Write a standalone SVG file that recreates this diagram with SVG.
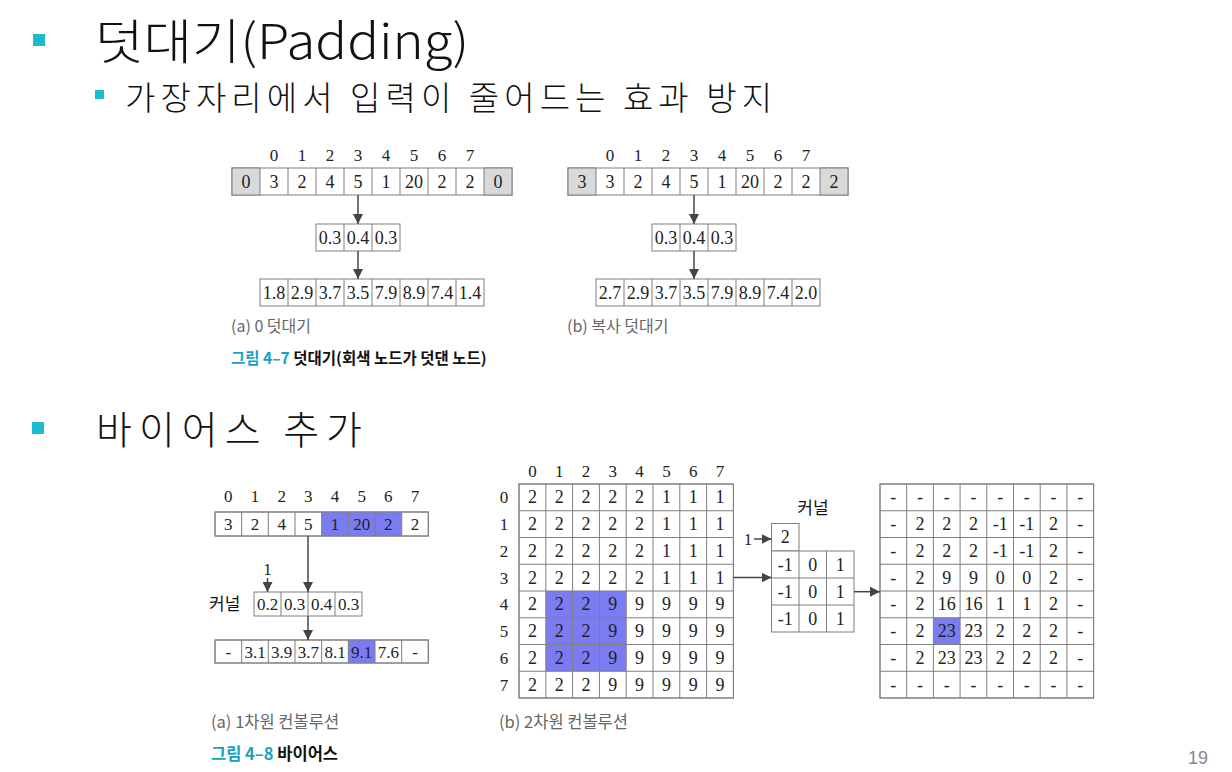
<svg xmlns="http://www.w3.org/2000/svg" width="1232" height="772" viewBox="0 0 1232 772">
<style>
.bg{fill:#fff}
.cell{fill:#fff;stroke:#7f7f7f;stroke-width:1}
.gray{fill:#d9d9d9;stroke:#7f7f7f;stroke-width:1}
.hl{fill:#7b7cf2}
.ln{fill:none;stroke:#7f7f7f;stroke-width:1}
.box{fill:none;stroke:#7f7f7f;stroke-width:1}
.n{font-family:"Liberation Serif","Times New Roman",serif;font-size:18px;fill:#222;text-anchor:middle}
.s{font-family:"Liberation Serif","Times New Roman",serif;font-size:17px;fill:#222;text-anchor:middle}
.ko{font-family:"Noto Sans CJK KR","Noto Sans",sans-serif;fill:#111}
.cap{font-family:"Noto Sans CJK KR","Noto Sans",sans-serif;fill:#666}
.fig{font-family:"Noto Sans CJK KR","Noto Sans",sans-serif;font-weight:bold;fill:#111}
.teal{fill:#1a9fbf}
.bul{fill:#1bbccd}
.arr{fill:none;stroke:#444;stroke-width:1.5}
</style>
<defs>
<marker id="ah" markerUnits="userSpaceOnUse" markerWidth="10" markerHeight="10" refX="10" refY="5" orient="auto">
<path d="M0,0 L10,5 L0,10 z" fill="#444"/>
</marker>
</defs>
<rect class="bg" x="0" y="0" width="1232" height="772"/>

<g id="headings">
<rect class="bul" x="33" y="34" width="12" height="12"/>
<text class="ko" x="95" y="59" font-size="48" font-weight="300" textLength="374" lengthAdjust="spacingAndGlyphs">덧대기(Padding)</text>
<rect class="bul" x="95" y="90" width="9" height="9"/>
<text class="ko" x="125" y="110" font-size="33" font-weight="300" textLength="647" lengthAdjust="spacing">가장자리에서 입력이 줄어드는 효과 방지</text>
<rect class="bul" x="32" y="422" width="12" height="12"/>
<text class="ko" x="96" y="444" font-size="39" font-weight="300" textLength="266" lengthAdjust="spacing">바이어스 추가</text>
<text x="1198" y="764" font-family="Liberation Sans,Arial,sans-serif" font-size="18" fill="#888" text-anchor="middle">19</text>
</g>

<!-- Figure 4-7 (a) -->
<g id="pad0-input">
<rect class="cell" x="232" y="168" width="280" height="27"/>
<rect class="gray" x="232" y="168" width="28" height="27"/>
<rect class="gray" x="484" y="168" width="28" height="27"/>
<path class="ln" d="M288 168V195M316 168V195M344 168V195M372 168V195M400 168V195M428 168V195M456 168V195"/>
<text class="s" x="274" y="161">0</text><text class="s" x="302" y="161">1</text><text class="s" x="330" y="161">2</text><text class="s" x="358" y="161">3</text><text class="s" x="386" y="161">4</text><text class="s" x="414" y="161">5</text><text class="s" x="442" y="161">6</text><text class="s" x="470" y="161">7</text>
<text class="n" x="246" y="188">0</text><text class="n" x="274" y="188">3</text><text class="n" x="302" y="188">2</text><text class="n" x="330" y="188">4</text><text class="n" x="358" y="188">5</text><text class="n" x="386" y="188">1</text><text class="n" x="414" y="188">20</text><text class="n" x="442" y="188">2</text><text class="n" x="470" y="188">2</text><text class="n" x="498" y="188">0</text>
</g>
<g id="pad0-kernel">
<rect class="cell" x="316" y="224" width="84" height="27"/>
<path class="ln" d="M344 224V251M372 224V251"/>
<text class="n" x="330" y="244">0.3</text><text class="n" x="358" y="244">0.4</text><text class="n" x="386" y="244">0.3</text>
</g>
<g id="pad0-output">
<rect class="cell" x="260" y="279" width="224" height="27"/>
<path class="ln" d="M288 279V306M316 279V306M344 279V306M372 279V306M400 279V306M428 279V306M456 279V306"/>
<text class="n" x="274" y="299">1.8</text><text class="n" x="302" y="299">2.9</text><text class="n" x="330" y="299">3.7</text><text class="n" x="358" y="299">3.5</text><text class="n" x="386" y="299">7.9</text><text class="n" x="414" y="299">8.9</text><text class="n" x="442" y="299">7.4</text><text class="n" x="470" y="299">1.4</text>
</g>
<g id="cap-a-top">
<text class="cap" x="231" y="332" font-size="16">(a) 0 덧대기</text>
</g>

<!-- Figure 4-7 (b) -->
<g id="padcopy-input">
<rect class="cell" x="568" y="168" width="280" height="27"/>
<rect class="gray" x="568" y="168" width="28" height="27"/>
<rect class="gray" x="820" y="168" width="28" height="27"/>
<path class="ln" d="M624 168V195M652 168V195M680 168V195M708 168V195M736 168V195M764 168V195M792 168V195"/>
<text class="s" x="610" y="161">0</text><text class="s" x="638" y="161">1</text><text class="s" x="666" y="161">2</text><text class="s" x="694" y="161">3</text><text class="s" x="722" y="161">4</text><text class="s" x="750" y="161">5</text><text class="s" x="778" y="161">6</text><text class="s" x="806" y="161">7</text>
<text class="n" x="582" y="188">3</text><text class="n" x="610" y="188">3</text><text class="n" x="638" y="188">2</text><text class="n" x="666" y="188">4</text><text class="n" x="694" y="188">5</text><text class="n" x="722" y="188">1</text><text class="n" x="750" y="188">20</text><text class="n" x="778" y="188">2</text><text class="n" x="806" y="188">2</text><text class="n" x="834" y="188">2</text>
</g>
<g id="padcopy-kernel">
<rect class="cell" x="652" y="224" width="84" height="27"/>
<path class="ln" d="M680 224V251M708 224V251"/>
<text class="n" x="666" y="244">0.3</text><text class="n" x="694" y="244">0.4</text><text class="n" x="722" y="244">0.3</text>
</g>
<g id="padcopy-output">
<rect class="cell" x="596" y="279" width="224" height="27"/>
<path class="ln" d="M624 279V306M652 279V306M680 279V306M708 279V306M736 279V306M764 279V306M792 279V306"/>
<text class="n" x="610" y="299">2.7</text><text class="n" x="638" y="299">2.9</text><text class="n" x="666" y="299">3.7</text><text class="n" x="694" y="299">3.5</text><text class="n" x="722" y="299">7.9</text><text class="n" x="750" y="299">8.9</text><text class="n" x="778" y="299">7.4</text><text class="n" x="806" y="299">2.0</text>
</g>
<g id="cap-b-top">
<text class="cap" x="567" y="332" font-size="16">(b) 복사 덧대기</text>
</g>
<g id="fig47-title">
<text class="fig" x="231" y="364" font-size="15.5"><tspan class="teal">그림 4–7</tspan> 덧대기(회색 노드가 덧댄 노드)</text>
</g>

<!-- Figure 4-8 (a) 1D -->
<g id="bias1d-input">
<rect class="cell" x="215" y="512" width="213.3" height="24"/>
<rect class="hl" x="321.7" y="512" width="80" height="24"/>
<rect class="box" x="215" y="512" width="213.3" height="24"/>
<path class="ln" d="M241.7 512V536M268.3 512V536M295 512V536M321.7 512V536M348.3 512V536M375 512V536M401.7 512V536"/>
<text class="s" x="228.3" y="502">0</text><text class="s" x="255" y="502">1</text><text class="s" x="281.7" y="502">2</text><text class="s" x="308.3" y="502">3</text><text class="s" x="335" y="502">4</text><text class="s" x="361.7" y="502">5</text><text class="s" x="388.3" y="502">6</text><text class="s" x="415" y="502">7</text>
<text class="s" x="228.3" y="530">3</text><text class="s" x="255" y="530">2</text><text class="s" x="281.7" y="530">4</text><text class="s" x="308.3" y="530">5</text><text class="s" x="335" y="530">1</text><text class="s" x="361.7" y="530">20</text><text class="s" x="388.3" y="530">2</text><text class="s" x="415" y="530">2</text>
</g>
<g id="bias1d-kernel">
<text class="ko" x="209" y="610" font-size="17">커널</text>
<text class="s" x="267.5" y="575">1</text>
<rect class="cell" x="254" y="592" width="108" height="24"/>
<path class="ln" d="M281 592V616M308 592V616M335 592V616"/>
<text class="s" x="267.5" y="610">0.2</text><text class="s" x="294.5" y="610">0.3</text><text class="s" x="321.5" y="610">0.4</text><text class="s" x="348.5" y="610">0.3</text>
</g>
<g id="bias1d-output">
<rect class="cell" x="215" y="640" width="213.3" height="23"/>
<rect class="hl" x="348.3" y="640" width="26.7" height="23"/>
<rect class="box" x="215" y="640" width="213.3" height="23"/>
<path class="ln" d="M241.7 640V663M268.3 640V663M295 640V663M321.7 640V663M348.3 640V663M375 640V663M401.7 640V663"/>
<text class="s" x="228.3" y="657.5">-</text><text class="s" x="255" y="657.5">3.1</text><text class="s" x="281.7" y="657.5">3.9</text><text class="s" x="308.3" y="657.5">3.7</text><text class="s" x="335" y="657.5">8.1</text><text class="s" x="361.7" y="657.5">9.1</text><text class="s" x="388.3" y="657.5">7.6</text><text class="s" x="415" y="657.5">-</text>
</g>

<!-- Figure 4-8 (b) 2D -->
<g id="bias2d-input">
<rect class="cell" x="519" y="484" width="214.4" height="214"/>
<rect class="hl" x="545.8" y="591" width="80.4" height="80.25"/>
<rect class="box" x="519" y="484" width="214.4" height="214"/>
<path class="ln" d="M545.8 484V698M572.6 484V698M599.4 484V698M626.2 484V698M653 484V698M679.8 484V698M706.6 484V698M519 510.75H733.4M519 537.5H733.4M519 564.25H733.4M519 591H733.4M519 617.75H733.4M519 644.5H733.4M519 671.25H733.4"/>
<text class="s" x="532.4" y="477">0</text><text class="s" x="559.2" y="477">1</text><text class="s" x="586" y="477">2</text><text class="s" x="612.8" y="477">3</text><text class="s" x="639.6" y="477">4</text><text class="s" x="666.4" y="477">5</text><text class="s" x="693.2" y="477">6</text><text class="s" x="720" y="477">7</text>
<text class="s" x="504" y="503.4">0</text><text class="s" x="504" y="530.1">1</text><text class="s" x="504" y="556.9">2</text><text class="s" x="504" y="583.6">3</text><text class="s" x="504" y="610.4">4</text><text class="s" x="504" y="637.1">5</text><text class="s" x="504" y="663.9">6</text><text class="s" x="504" y="690.6">7</text>
<text class="n" x="532.4" y="503.4">2</text><text class="n" x="559.2" y="503.4">2</text><text class="n" x="586" y="503.4">2</text><text class="n" x="612.8" y="503.4">2</text><text class="n" x="639.6" y="503.4">2</text><text class="n" x="666.4" y="503.4">1</text><text class="n" x="693.2" y="503.4">1</text><text class="n" x="720" y="503.4">1</text>
<text class="n" x="532.4" y="530.1">2</text><text class="n" x="559.2" y="530.1">2</text><text class="n" x="586" y="530.1">2</text><text class="n" x="612.8" y="530.1">2</text><text class="n" x="639.6" y="530.1">2</text><text class="n" x="666.4" y="530.1">1</text><text class="n" x="693.2" y="530.1">1</text><text class="n" x="720" y="530.1">1</text>
<text class="n" x="532.4" y="556.9">2</text><text class="n" x="559.2" y="556.9">2</text><text class="n" x="586" y="556.9">2</text><text class="n" x="612.8" y="556.9">2</text><text class="n" x="639.6" y="556.9">2</text><text class="n" x="666.4" y="556.9">1</text><text class="n" x="693.2" y="556.9">1</text><text class="n" x="720" y="556.9">1</text>
<text class="n" x="532.4" y="583.6">2</text><text class="n" x="559.2" y="583.6">2</text><text class="n" x="586" y="583.6">2</text><text class="n" x="612.8" y="583.6">2</text><text class="n" x="639.6" y="583.6">2</text><text class="n" x="666.4" y="583.6">1</text><text class="n" x="693.2" y="583.6">1</text><text class="n" x="720" y="583.6">1</text>
<text class="n" x="532.4" y="610.4">2</text><text class="n" x="559.2" y="610.4">2</text><text class="n" x="586" y="610.4">2</text><text class="n" x="612.8" y="610.4">9</text><text class="n" x="639.6" y="610.4">9</text><text class="n" x="666.4" y="610.4">9</text><text class="n" x="693.2" y="610.4">9</text><text class="n" x="720" y="610.4">9</text>
<text class="n" x="532.4" y="637.1">2</text><text class="n" x="559.2" y="637.1">2</text><text class="n" x="586" y="637.1">2</text><text class="n" x="612.8" y="637.1">9</text><text class="n" x="639.6" y="637.1">9</text><text class="n" x="666.4" y="637.1">9</text><text class="n" x="693.2" y="637.1">9</text><text class="n" x="720" y="637.1">9</text>
<text class="n" x="532.4" y="663.9">2</text><text class="n" x="559.2" y="663.9">2</text><text class="n" x="586" y="663.9">2</text><text class="n" x="612.8" y="663.9">9</text><text class="n" x="639.6" y="663.9">9</text><text class="n" x="666.4" y="663.9">9</text><text class="n" x="693.2" y="663.9">9</text><text class="n" x="720" y="663.9">9</text>
<text class="n" x="532.4" y="690.6">2</text><text class="n" x="559.2" y="690.6">2</text><text class="n" x="586" y="690.6">2</text><text class="n" x="612.8" y="690.6">9</text><text class="n" x="639.6" y="690.6">9</text><text class="n" x="666.4" y="690.6">9</text><text class="n" x="693.2" y="690.6">9</text><text class="n" x="720" y="690.6">9</text>
</g>
<g id="bias2d-kernel">
<text class="ko" x="813" y="514" font-size="17" text-anchor="middle">커널</text>
<text class="s" x="748" y="545">1</text>
<rect class="cell" x="771.5" y="523.5" width="27.5" height="27.5"/>
<text class="n" x="785.25" y="543">2</text>
<rect class="cell" x="771.5" y="551" width="82.5" height="81"/>
<path class="ln" d="M799 551V632M826.5 551V632M771.5 578H854M771.5 605H854"/>
<text class="n" x="785.25" y="570.5">-1</text><text class="n" x="812.75" y="570.5">0</text><text class="n" x="840.25" y="570.5">1</text>
<text class="n" x="785.25" y="597.5">-1</text><text class="n" x="812.75" y="597.5">0</text><text class="n" x="840.25" y="597.5">1</text>
<text class="n" x="785.25" y="624.5">-1</text><text class="n" x="812.75" y="624.5">0</text><text class="n" x="840.25" y="624.5">1</text>
</g>
<g id="bias2d-output">
<rect class="cell" x="880" y="484" width="213.6" height="214"/>
<rect class="hl" x="933.4" y="617.75" width="26.7" height="26.75"/>
<rect class="box" x="880" y="484" width="213.6" height="214"/>
<path class="ln" d="M906.7 484V698M933.4 484V698M960.1 484V698M986.8 484V698M1013.5 484V698M1040.2 484V698M1066.9 484V698M880 510.75H1093.6M880 537.5H1093.6M880 564.25H1093.6M880 591H1093.6M880 617.75H1093.6M880 644.5H1093.6M880 671.25H1093.6"/>
<text class="n" x="893.35" y="503.4">-</text><text class="n" x="920.05" y="503.4">-</text><text class="n" x="946.75" y="503.4">-</text><text class="n" x="973.45" y="503.4">-</text><text class="n" x="1000.15" y="503.4">-</text><text class="n" x="1026.85" y="503.4">-</text><text class="n" x="1053.55" y="503.4">-</text><text class="n" x="1080.25" y="503.4">-</text>
<text class="n" x="893.35" y="530.1">-</text><text class="n" x="920.05" y="530.1">2</text><text class="n" x="946.75" y="530.1">2</text><text class="n" x="973.45" y="530.1">2</text><text class="n" x="1000.15" y="530.1">-1</text><text class="n" x="1026.85" y="530.1">-1</text><text class="n" x="1053.55" y="530.1">2</text><text class="n" x="1080.25" y="530.1">-</text>
<text class="n" x="893.35" y="556.9">-</text><text class="n" x="920.05" y="556.9">2</text><text class="n" x="946.75" y="556.9">2</text><text class="n" x="973.45" y="556.9">2</text><text class="n" x="1000.15" y="556.9">-1</text><text class="n" x="1026.85" y="556.9">-1</text><text class="n" x="1053.55" y="556.9">2</text><text class="n" x="1080.25" y="556.9">-</text>
<text class="n" x="893.35" y="583.6">-</text><text class="n" x="920.05" y="583.6">2</text><text class="n" x="946.75" y="583.6">9</text><text class="n" x="973.45" y="583.6">9</text><text class="n" x="1000.15" y="583.6">0</text><text class="n" x="1026.85" y="583.6">0</text><text class="n" x="1053.55" y="583.6">2</text><text class="n" x="1080.25" y="583.6">-</text>
<text class="n" x="893.35" y="610.4">-</text><text class="n" x="920.05" y="610.4">2</text><text class="n" x="946.75" y="610.4">16</text><text class="n" x="973.45" y="610.4">16</text><text class="n" x="1000.15" y="610.4">1</text><text class="n" x="1026.85" y="610.4">1</text><text class="n" x="1053.55" y="610.4">2</text><text class="n" x="1080.25" y="610.4">-</text>
<text class="n" x="893.35" y="637.1">-</text><text class="n" x="920.05" y="637.1">2</text><text class="n" x="946.75" y="637.1">23</text><text class="n" x="973.45" y="637.1">23</text><text class="n" x="1000.15" y="637.1">2</text><text class="n" x="1026.85" y="637.1">2</text><text class="n" x="1053.55" y="637.1">2</text><text class="n" x="1080.25" y="637.1">-</text>
<text class="n" x="893.35" y="663.9">-</text><text class="n" x="920.05" y="663.9">2</text><text class="n" x="946.75" y="663.9">23</text><text class="n" x="973.45" y="663.9">23</text><text class="n" x="1000.15" y="663.9">2</text><text class="n" x="1026.85" y="663.9">2</text><text class="n" x="1053.55" y="663.9">2</text><text class="n" x="1080.25" y="663.9">-</text>
<text class="n" x="893.35" y="690.6">-</text><text class="n" x="920.05" y="690.6">-</text><text class="n" x="946.75" y="690.6">-</text><text class="n" x="973.45" y="690.6">-</text><text class="n" x="1000.15" y="690.6">-</text><text class="n" x="1026.85" y="690.6">-</text><text class="n" x="1053.55" y="690.6">-</text><text class="n" x="1080.25" y="690.6">-</text>
</g>
<g id="captions-bottom">
<text class="cap" x="211" y="728" font-size="16.5">(a) 1차원 컨볼루션</text>
<text class="cap" x="499" y="728" font-size="16.5">(b) 2차원 컨볼루션</text>
<text class="fig" x="211" y="760" font-size="16.5"><tspan class="teal">그림 4–8</tspan> 바이어스</text>
</g>

<g id="connectors">
<path class="arr" marker-end="url(#ah)" d="M358 195V224"/>
<path class="arr" marker-end="url(#ah)" d="M358 251V279"/>
<path class="arr" marker-end="url(#ah)" d="M694 195V224"/>
<path class="arr" marker-end="url(#ah)" d="M694 251V279"/>
<path class="arr" marker-end="url(#ah)" d="M308 536V592"/>
<path class="arr" marker-end="url(#ah)" d="M267.5 578V592"/>
<path class="arr" marker-end="url(#ah)" d="M308 616V640"/>
<path class="arr" marker-end="url(#ah)" d="M754 539H771.5"/>
<path class="arr" marker-end="url(#ah)" d="M733.4 577.6H771.5"/>
<path class="arr" marker-end="url(#ah)" d="M854 591.7H880"/>
</g>
</svg>
